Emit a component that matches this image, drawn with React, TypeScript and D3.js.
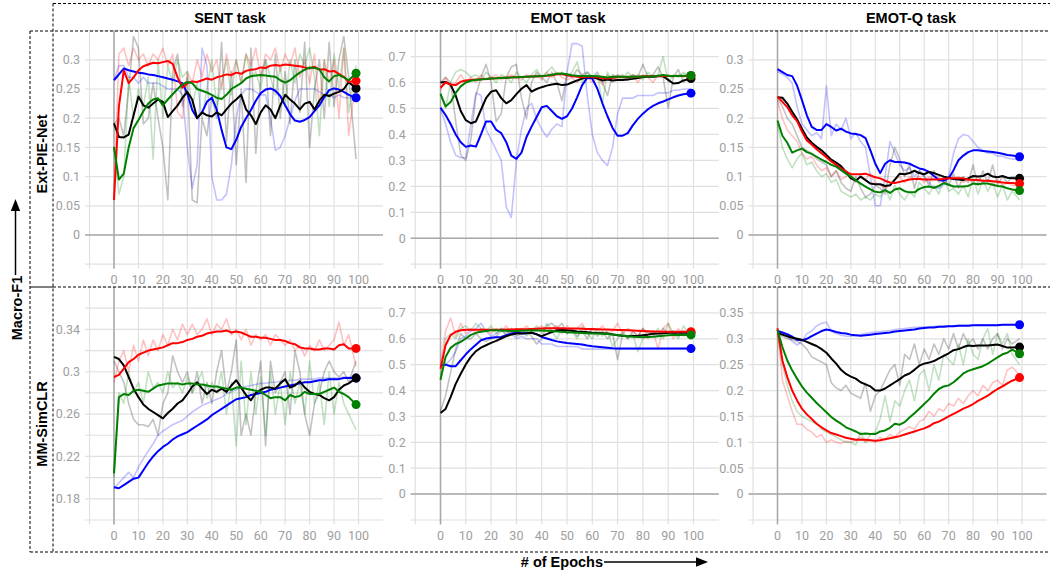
import * as d3 from "d3";

// x positions of every stored value (epochs)
const EPOCHS = [0, 2, 4, 6, 8, 10, 12, 14, 16, 18, 20, 22, 24, 26, 28, 30, 32, 34, 36, 38, 40, 42, 44, 46, 48, 50, 52, 54, 56, 58, 60, 62, 64, 66, 68, 70, 72, 74, 76, 78, 80, 82, 84, 86, 88, 90, 92, 94, 96, 99];

const TASKS = ["SENT task", "EMOT task", "EMOT-Q task"];
const MODELS = ["Ext-PIE-Net", "MM-SimCLR"];
const X_TICKS = [0, 10, 20, 30, 40, 50, 60, 70, 80, 90, 100];

const Y_TICKS_SENT_EXT = [0, 0.05, 0.1, 0.15, 0.2, 0.25, 0.3];
const Y_TICKS_EMOT = [0, 0.1, 0.2, 0.3, 0.4, 0.5, 0.6, 0.7];
const Y_TICKS_EMOTQ_EXT = [0, 0.05, 0.1, 0.15, 0.2, 0.25, 0.3];
const Y_TICKS_SENT_SIM = [0.18, 0.22, 0.26, 0.3, 0.34];
const Y_TICKS_EMOTQ_SIM = [0, 0.05, 0.1, 0.15, 0.2, 0.25, 0.3, 0.35];

// ---- SENT task / Ext-PIE-Net ----
const SENT_EXT_RED = [
  0.06, 0.22, 0.282, 0.26, 0.27, 0.282, 0.289, 0.292, 0.295, 0.294,
  0.296, 0.298, 0.293, 0.27, 0.252, 0.26, 0.263, 0.262, 0.265, 0.268,
  0.266, 0.27, 0.272, 0.275, 0.274, 0.278, 0.276, 0.281, 0.283, 0.284,
  0.287, 0.286, 0.29, 0.291, 0.29, 0.292, 0.291, 0.29, 0.289, 0.287,
  0.285, 0.288, 0.283, 0.284, 0.28, 0.281, 0.276, 0.271, 0.262, 0.264,
];
const SENT_EXT_RED_RAW = [
  0.06, 0.31, 0.32, 0.29, 0.32, 0.3, 0.31, 0.29, 0.31, 0.3,
  0.32, 0.29, 0.31, 0.21, 0.2, 0.28, 0.26, 0.3, 0.27, 0.31,
  0.28, 0.3, 0.25, 0.31, 0.27, 0.3, 0.26, 0.31, 0.29, 0.32,
  0.27, 0.31, 0.3, 0.32, 0.28, 0.31, 0.29, 0.32, 0.27, 0.3,
  0.26, 0.31, 0.22, 0.3, 0.26, 0.3, 0.2, 0.32, 0.17, 0.27,
];
const SENT_EXT_BLUE = [
  0.265, 0.275, 0.285, 0.282, 0.28, 0.278, 0.277, 0.275, 0.274, 0.272,
  0.27, 0.268, 0.266, 0.263, 0.26, 0.242, 0.214, 0.2, 0.21, 0.228,
  0.235, 0.215, 0.18, 0.15, 0.147, 0.163, 0.185, 0.2, 0.214, 0.23,
  0.243, 0.249, 0.251, 0.247, 0.238, 0.222, 0.207, 0.196, 0.194, 0.197,
  0.202, 0.212, 0.222, 0.236, 0.248, 0.251, 0.249, 0.245, 0.24, 0.235,
];
const SENT_EXT_BLUE_RAW = [
  0.265, 0.29, 0.29, 0.27, 0.27, 0.26, 0.27, 0.26, 0.26, 0.26,
  0.255, 0.25, 0.25, 0.25, 0.24, 0.15, 0.08, 0.12, 0.32, 0.29,
  0.1, 0.06, 0.06, 0.07, 0.12, 0.2, 0.24, 0.25, 0.25, 0.245,
  0.24, 0.24, 0.2, 0.145, 0.15, 0.17, 0.2, 0.23, 0.25, 0.25,
  0.25, 0.25, 0.245, 0.24, 0.24, 0.235, 0.24, 0.235, 0.235, 0.235,
];
const SENT_EXT_GREEN = [
  0.151, 0.095, 0.105, 0.15, 0.183, 0.197, 0.212, 0.225, 0.232, 0.234,
  0.222, 0.232, 0.241, 0.25, 0.258, 0.262, 0.26, 0.25, 0.247, 0.244,
  0.24, 0.235, 0.233, 0.24, 0.25, 0.255, 0.26, 0.268, 0.272, 0.273,
  0.274, 0.273, 0.272, 0.271, 0.265, 0.261, 0.265, 0.272, 0.278, 0.283,
  0.287, 0.286, 0.284, 0.27, 0.263, 0.272, 0.274, 0.27, 0.265, 0.277,
];
const SENT_EXT_GREEN_RAW = [
  0.15, 0.07, 0.1, 0.27, 0.2, 0.25, 0.22, 0.27, 0.13, 0.3,
  0.2, 0.29, 0.26, 0.3, 0.27, 0.28, 0.22, 0.26, 0.2, 0.25,
  0.3, 0.22, 0.26, 0.3, 0.24, 0.3, 0.26, 0.31, 0.27, 0.28,
  0.25, 0.3, 0.27, 0.24, 0.29, 0.22, 0.3, 0.26, 0.31, 0.29,
  0.32, 0.27, 0.17, 0.3, 0.22, 0.31, 0.25, 0.32, 0.21, 0.29,
];
const SENT_EXT_BLACK = [
  0.191, 0.168, 0.167, 0.172, 0.205, 0.237, 0.222, 0.218, 0.225, 0.232,
  0.228, 0.202, 0.212, 0.222, 0.235, 0.245, 0.232, 0.2, 0.21, 0.205,
  0.203, 0.21, 0.205, 0.215, 0.225, 0.232, 0.24, 0.215, 0.205, 0.19,
  0.21, 0.222, 0.215, 0.2, 0.222, 0.24, 0.232, 0.225, 0.215, 0.225,
  0.228, 0.215, 0.23, 0.24, 0.238, 0.242, 0.245, 0.25, 0.262, 0.251,
];
const SENT_EXT_BLACK_RAW = [
  0.19, 0.2, 0.17, 0.25, 0.34, 0.32, 0.19, 0.2, 0.26, 0.2,
  0.15, 0.06, 0.28, 0.31, 0.22, 0.27, 0.06, 0.055, 0.2, 0.17,
  0.24, 0.2, 0.33, 0.16, 0.28, 0.12, 0.25, 0.09, 0.32, 0.14,
  0.27, 0.3, 0.17, 0.31, 0.2, 0.28, 0.19, 0.3, 0.21, 0.33,
  0.15, 0.25, 0.3, 0.2, 0.33, 0.22, 0.3, 0.34, 0.27, 0.13,
];

// ---- EMOT task / Ext-PIE-Net ----
const EMOT_EXT_RED = [
  0.58, 0.6, 0.592, 0.59, 0.603, 0.608, 0.61, 0.612, 0.613, 0.614,
  0.615, 0.616, 0.618, 0.618, 0.62, 0.62, 0.621, 0.622, 0.623, 0.623,
  0.625, 0.626, 0.628, 0.632, 0.633, 0.628, 0.625, 0.622, 0.62, 0.622,
  0.622, 0.62, 0.617, 0.615, 0.618, 0.62, 0.621, 0.621, 0.622, 0.622,
  0.624, 0.624, 0.625, 0.625, 0.625, 0.625, 0.625, 0.625, 0.625, 0.626,
];
const EMOT_EXT_RED_RAW = [
  0.57, 0.62, 0.58, 0.6, 0.63, 0.6, 0.62, 0.6, 0.63, 0.61,
  0.62, 0.63, 0.61, 0.62, 0.63, 0.62, 0.61, 0.63, 0.62, 0.63,
  0.61, 0.64, 0.62, 0.64, 0.62, 0.61, 0.62, 0.6, 0.63, 0.62,
  0.6, 0.62, 0.59, 0.63, 0.61, 0.63, 0.62, 0.61, 0.63, 0.6,
  0.63, 0.62, 0.6, 0.63, 0.62, 0.63, 0.62, 0.63, 0.62, 0.63,
];
const EMOT_EXT_BLUE = [
  0.503, 0.475, 0.44, 0.4, 0.37, 0.352, 0.357, 0.353, 0.4, 0.45,
  0.45, 0.418, 0.405, 0.37, 0.318, 0.306, 0.33, 0.39, 0.43, 0.467,
  0.505, 0.51, 0.49, 0.47, 0.46, 0.47, 0.5, 0.543, 0.59, 0.618,
  0.615, 0.576, 0.52, 0.47, 0.425, 0.395, 0.395, 0.405, 0.435, 0.46,
  0.48, 0.497, 0.51, 0.52, 0.527, 0.535, 0.543, 0.55, 0.555, 0.559,
];
const EMOT_EXT_BLUE_RAW = [
  0.5, 0.44, 0.37, 0.32, 0.31, 0.31, 0.44, 0.56, 0.55, 0.42,
  0.38, 0.34, 0.3, 0.12, 0.08, 0.3, 0.42, 0.5, 0.52, 0.46,
  0.42, 0.39, 0.42, 0.44, 0.43, 0.64, 0.75, 0.75, 0.74, 0.55,
  0.4, 0.33, 0.3, 0.28, 0.35, 0.48, 0.54, 0.54, 0.54, 0.55,
  0.55, 0.55, 0.55, 0.56, 0.56, 0.56, 0.57, 0.57, 0.575, 0.575,
];
const EMOT_EXT_GREEN = [
  0.556, 0.508, 0.525, 0.56, 0.585, 0.6, 0.607, 0.61, 0.612, 0.614,
  0.615, 0.616, 0.617, 0.618, 0.619, 0.62, 0.621, 0.622, 0.623, 0.624,
  0.625, 0.627, 0.63, 0.634, 0.635, 0.632, 0.628, 0.626, 0.625, 0.625,
  0.625, 0.624, 0.622, 0.619, 0.622, 0.622, 0.622, 0.622, 0.622, 0.622,
  0.623, 0.623, 0.624, 0.626, 0.629, 0.626, 0.625, 0.625, 0.626, 0.627,
];
const EMOT_EXT_GREEN_RAW = [
  0.56, 0.5, 0.6, 0.64, 0.65, 0.64, 0.62, 0.63, 0.61, 0.64,
  0.62, 0.6, 0.63, 0.62, 0.6, 0.64, 0.62, 0.6, 0.63, 0.65,
  0.62, 0.64, 0.66, 0.63, 0.64, 0.62, 0.64, 0.68, 0.6, 0.64,
  0.62, 0.63, 0.52, 0.64, 0.6, 0.63, 0.61, 0.64, 0.62, 0.63,
  0.61, 0.64, 0.62, 0.63, 0.7, 0.6, 0.63, 0.62, 0.64, 0.62,
];
const EMOT_EXT_BLACK = [
  0.6, 0.602, 0.592, 0.55, 0.49, 0.455, 0.443, 0.45, 0.495, 0.54,
  0.565, 0.57, 0.54, 0.52, 0.532, 0.555, 0.576, 0.59, 0.565, 0.575,
  0.582, 0.588, 0.592, 0.595, 0.59, 0.592, 0.6, 0.608, 0.615, 0.62,
  0.62, 0.615, 0.608, 0.612, 0.608, 0.61, 0.61, 0.612, 0.614, 0.617,
  0.621, 0.622, 0.622, 0.624, 0.624, 0.61, 0.596, 0.598, 0.608, 0.615,
];
const EMOT_EXT_BLACK_RAW = [
  0.6, 0.62, 0.6, 0.45, 0.32, 0.3, 0.38, 0.55, 0.62, 0.67,
  0.6, 0.45, 0.48, 0.62, 0.66, 0.67, 0.54, 0.46, 0.6, 0.64,
  0.62, 0.6, 0.64, 0.6, 0.53, 0.63, 0.62, 0.65, 0.63, 0.64,
  0.62, 0.64, 0.6, 0.55, 0.63, 0.62, 0.63, 0.61, 0.63, 0.62,
  0.67, 0.62, 0.63, 0.66, 0.62, 0.5, 0.62, 0.65, 0.6, 0.63,
];

// ---- EMOT-Q task / Ext-PIE-Net ----
const EMOTQ_EXT_RED = [
  0.237, 0.228, 0.219, 0.205, 0.195, 0.177, 0.162, 0.155, 0.147, 0.14,
  0.133, 0.126, 0.12, 0.114, 0.109, 0.104, 0.104, 0.104, 0.105, 0.102,
  0.099, 0.097, 0.093, 0.09, 0.089, 0.091, 0.093, 0.095, 0.096, 0.096,
  0.095, 0.095, 0.095, 0.095, 0.096, 0.097, 0.097, 0.097, 0.097, 0.095,
  0.094, 0.094, 0.093, 0.093, 0.092, 0.091, 0.09, 0.089, 0.089, 0.088,
];
const EMOTQ_EXT_RED_RAW = [
  0.23, 0.2, 0.18, 0.17, 0.16, 0.14, 0.13, 0.135, 0.12, 0.11,
  0.115, 0.1, 0.11, 0.095, 0.1, 0.105, 0.09, 0.1, 0.095, 0.105,
  0.09, 0.085, 0.08, 0.085, 0.095, 0.1, 0.09, 0.1, 0.095, 0.1,
  0.09, 0.1, 0.095, 0.1, 0.09, 0.1, 0.095, 0.1, 0.09, 0.095,
  0.09, 0.1, 0.09, 0.095, 0.085, 0.095, 0.085, 0.09, 0.085, 0.085,
];
const EMOTQ_EXT_BLUE = [
  0.284, 0.279, 0.274, 0.272, 0.256, 0.231, 0.205, 0.185, 0.18, 0.18,
  0.19, 0.185, 0.179, 0.182, 0.177, 0.174, 0.173, 0.171, 0.166, 0.145,
  0.122, 0.106, 0.122, 0.128, 0.125, 0.125, 0.124, 0.122, 0.118, 0.114,
  0.112, 0.108, 0.101, 0.094, 0.093, 0.097, 0.111, 0.128, 0.136, 0.142,
  0.145, 0.145, 0.144, 0.143, 0.142, 0.141, 0.139, 0.137, 0.136, 0.134,
];
const EMOTQ_EXT_BLUE_RAW = [
  0.28, 0.275, 0.27, 0.26, 0.22, 0.19, 0.18, 0.17, 0.175, 0.165,
  0.255, 0.17, 0.19, 0.18, 0.2, 0.165, 0.175, 0.16, 0.15, 0.1,
  0.05, 0.05, 0.1, 0.16, 0.14, 0.12, 0.11, 0.115, 0.1, 0.11,
  0.1, 0.09, 0.08, 0.08, 0.085, 0.1, 0.14, 0.165, 0.172, 0.17,
  0.16, 0.15, 0.145, 0.14, 0.14, 0.135, 0.135, 0.132, 0.13, 0.13,
];
const EMOTQ_EXT_GREEN = [
  0.196, 0.17, 0.158, 0.141, 0.145, 0.148, 0.142, 0.139, 0.134, 0.129,
  0.125, 0.12, 0.117, 0.111, 0.105, 0.1, 0.094, 0.088, 0.083, 0.078,
  0.074, 0.073, 0.077, 0.072, 0.078, 0.08, 0.075, 0.073, 0.073, 0.079,
  0.082, 0.083, 0.081, 0.084, 0.089, 0.086, 0.083, 0.083, 0.083, 0.084,
  0.088, 0.087, 0.088, 0.088, 0.086, 0.084, 0.083, 0.08, 0.078, 0.076,
];
const EMOTQ_EXT_GREEN_RAW = [
  0.19, 0.15, 0.13, 0.115, 0.13, 0.14, 0.12, 0.125, 0.11, 0.1,
  0.105, 0.09, 0.095, 0.075, 0.07, 0.065, 0.07, 0.06, 0.065, 0.06,
  0.07, 0.065, 0.08, 0.06, 0.085, 0.07, 0.06, 0.075, 0.065, 0.09,
  0.08, 0.07, 0.085, 0.07, 0.1, 0.075, 0.08, 0.07, 0.085, 0.065,
  0.1, 0.07, 0.095, 0.075, 0.09, 0.065, 0.085, 0.06, 0.075, 0.06,
];
const EMOTQ_EXT_BLACK = [
  0.236, 0.235, 0.225, 0.211, 0.198, 0.182, 0.167, 0.158, 0.151, 0.145,
  0.137, 0.129, 0.124, 0.118, 0.108, 0.097, 0.093, 0.1, 0.094, 0.088,
  0.087, 0.087, 0.084, 0.085, 0.095, 0.105, 0.104, 0.106, 0.11, 0.106,
  0.104, 0.108, 0.106, 0.103, 0.1, 0.098, 0.096, 0.095, 0.094, 0.097,
  0.101, 0.1, 0.101, 0.105, 0.1, 0.099, 0.101, 0.098, 0.097, 0.097,
];
const EMOTQ_EXT_BLACK_RAW = [
  0.235, 0.22, 0.2, 0.19, 0.17, 0.15, 0.145, 0.14, 0.13, 0.125,
  0.12, 0.1, 0.11, 0.09, 0.08, 0.075, 0.1, 0.08, 0.065, 0.07,
  0.085, 0.08, 0.07, 0.12, 0.15, 0.13, 0.1, 0.12, 0.08, 0.11,
  0.1, 0.085, 0.11, 0.09, 0.1, 0.085, 0.105, 0.08, 0.1, 0.09,
  0.12, 0.085, 0.11, 0.09, 0.12, 0.085, 0.1, 0.09, 0.1, 0.095,
];

// ---- SENT task / MM-SimCLR ----
const SENT_SIM_RED = [
  0.295, 0.297, 0.303, 0.309, 0.312, 0.316, 0.318, 0.32, 0.321, 0.322,
  0.323, 0.325, 0.327, 0.327, 0.328, 0.33, 0.331, 0.333, 0.334, 0.336,
  0.337, 0.338, 0.338, 0.339, 0.337, 0.338, 0.337, 0.335, 0.333, 0.333,
  0.332, 0.332, 0.331, 0.33, 0.33, 0.329, 0.327, 0.326, 0.323, 0.322,
  0.322, 0.321, 0.321, 0.322, 0.322, 0.321, 0.325, 0.326, 0.322, 0.322,
];
const SENT_SIM_RED_RAW = [
  0.29, 0.31, 0.32, 0.3, 0.325, 0.31, 0.33, 0.315, 0.33, 0.32,
  0.335, 0.325, 0.34, 0.33, 0.345, 0.335, 0.345, 0.335, 0.34, 0.35,
  0.335, 0.345, 0.34, 0.35, 0.335, 0.34, 0.33, 0.34, 0.325, 0.335,
  0.33, 0.335, 0.325, 0.335, 0.33, 0.325, 0.33, 0.32, 0.325, 0.315,
  0.325, 0.32, 0.33, 0.32, 0.325, 0.33, 0.347, 0.325, 0.335, 0.305,
];
const SENT_SIM_BLUE = [
  0.191, 0.19, 0.193, 0.196, 0.199, 0.2, 0.207, 0.214, 0.22, 0.225,
  0.229, 0.232, 0.236, 0.239, 0.241, 0.243, 0.246, 0.249, 0.252, 0.255,
  0.259, 0.262, 0.265, 0.268, 0.271, 0.274, 0.275, 0.276, 0.278, 0.279,
  0.28, 0.281, 0.283, 0.284, 0.285, 0.286, 0.287, 0.288, 0.289, 0.29,
  0.29, 0.291, 0.292, 0.292, 0.293, 0.293, 0.293, 0.294, 0.294, 0.294,
];
const SENT_SIM_BLUE_RAW = [
  0.19, 0.195, 0.2, 0.205, 0.2, 0.21, 0.218, 0.225, 0.232, 0.24,
  0.244, 0.247, 0.25, 0.252, 0.254, 0.258, 0.262, 0.265, 0.268, 0.27,
  0.272, 0.274, 0.276, 0.279, 0.281, 0.283, 0.285, 0.286, 0.287, 0.288,
  0.289, 0.289, 0.29, 0.29, 0.291, 0.291, 0.292, 0.292, 0.293, 0.293,
  0.293, 0.293, 0.294, 0.294, 0.294, 0.294, 0.294, 0.295, 0.295, 0.295,
];
const SENT_SIM_GREEN = [
  0.204, 0.276, 0.279, 0.278, 0.282, 0.283, 0.282, 0.281, 0.284, 0.287,
  0.288, 0.289, 0.289, 0.289, 0.288, 0.289, 0.289, 0.288, 0.288, 0.287,
  0.286, 0.286, 0.285, 0.284, 0.283, 0.285, 0.285, 0.284, 0.283, 0.282,
  0.281, 0.278, 0.275, 0.276, 0.276, 0.273, 0.278, 0.276, 0.277, 0.281,
  0.279, 0.279, 0.279, 0.281, 0.283, 0.285, 0.281, 0.279, 0.276, 0.269,
];
const SENT_SIM_GREEN_RAW = [
  0.2, 0.28, 0.27, 0.3, 0.28, 0.29, 0.27, 0.3, 0.285, 0.29,
  0.28, 0.3, 0.285, 0.29, 0.28, 0.295, 0.28, 0.29, 0.3, 0.275,
  0.29, 0.28, 0.3, 0.26, 0.29, 0.23, 0.31, 0.25, 0.3, 0.26,
  0.295, 0.24, 0.3, 0.26, 0.29, 0.25, 0.3, 0.27, 0.29, 0.26,
  0.31, 0.27, 0.29, 0.25, 0.3, 0.26, 0.29, 0.27, 0.26, 0.245,
];
const SENT_SIM_BLACK = [
  0.314, 0.312, 0.306, 0.295, 0.284, 0.276, 0.269, 0.265, 0.262, 0.259,
  0.256, 0.261, 0.265, 0.27, 0.273, 0.279, 0.286, 0.29, 0.284, 0.279,
  0.283, 0.281, 0.284, 0.281, 0.287, 0.292, 0.285, 0.278, 0.273, 0.28,
  0.283, 0.285, 0.285, 0.284, 0.289, 0.293, 0.285, 0.287, 0.291, 0.285,
  0.281, 0.279, 0.278, 0.275, 0.273, 0.276, 0.283, 0.287, 0.289, 0.294,
];
const SENT_SIM_BLACK_RAW = [
  0.31, 0.3, 0.29, 0.27, 0.255, 0.25, 0.25, 0.248, 0.255, 0.24,
  0.27, 0.28, 0.315, 0.3, 0.29, 0.3, 0.28, 0.3, 0.27, 0.29,
  0.27, 0.3, 0.32, 0.28, 0.3, 0.33, 0.24, 0.26, 0.24, 0.28,
  0.31, 0.23, 0.31, 0.28, 0.29, 0.3, 0.26, 0.32, 0.3, 0.26,
  0.24, 0.27, 0.28, 0.3, 0.31, 0.3, 0.295, 0.3, 0.29, 0.31,
];

// ---- EMOT task / MM-SimCLR ----
const EMOT_SIM_RED = [
  0.484, 0.575, 0.614, 0.627, 0.633, 0.635, 0.635, 0.635, 0.635, 0.635,
  0.635, 0.635, 0.635, 0.636, 0.636, 0.637, 0.637, 0.637, 0.638, 0.639,
  0.64, 0.641, 0.641, 0.641, 0.641, 0.64, 0.64, 0.64, 0.639, 0.638,
  0.638, 0.637, 0.636, 0.636, 0.635, 0.634, 0.634, 0.633, 0.632, 0.631,
  0.63, 0.629, 0.628, 0.628, 0.627, 0.627, 0.627, 0.627, 0.627, 0.627,
];
const EMOT_SIM_RED_RAW = [
  0.5, 0.63, 0.68, 0.61, 0.66, 0.62, 0.64, 0.62, 0.64, 0.63,
  0.62, 0.64, 0.63, 0.65, 0.62, 0.64, 0.63, 0.65, 0.63, 0.64,
  0.65, 0.63, 0.64, 0.65, 0.62, 0.65, 0.63, 0.64, 0.66, 0.62,
  0.64, 0.63, 0.65, 0.62, 0.63, 0.66, 0.62, 0.64, 0.63, 0.61,
  0.64, 0.6, 0.63, 0.56, 0.64, 0.66, 0.6, 0.64, 0.61, 0.63,
];
const EMOT_SIM_BLUE = [
  0.497, 0.5, 0.494, 0.494, 0.517, 0.54, 0.56, 0.577, 0.594, 0.601,
  0.604, 0.606, 0.607, 0.614, 0.62, 0.623, 0.621, 0.621, 0.623, 0.618,
  0.607, 0.601, 0.595, 0.59, 0.587, 0.584, 0.582, 0.58, 0.578, 0.574,
  0.571, 0.569, 0.567, 0.565, 0.563, 0.562, 0.562, 0.562, 0.562, 0.562,
  0.562, 0.562, 0.562, 0.562, 0.562, 0.562, 0.562, 0.562, 0.562, 0.562,
];
const EMOT_SIM_BLUE_RAW = [
  0.5, 0.5, 0.52, 0.55, 0.6, 0.61, 0.63, 0.64, 0.66, 0.63,
  0.61, 0.62, 0.64, 0.63, 0.62, 0.6, 0.61, 0.6, 0.6, 0.6,
  0.58, 0.58, 0.58, 0.57, 0.57, 0.57, 0.57, 0.57, 0.56, 0.56,
  0.56, 0.56, 0.56, 0.56, 0.56, 0.56, 0.56, 0.56, 0.56, 0.56,
  0.56, 0.56, 0.56, 0.56, 0.56, 0.56, 0.56, 0.56, 0.56, 0.56,
];
const EMOT_SIM_GREEN = [
  0.442, 0.53, 0.565, 0.58, 0.588, 0.601, 0.615, 0.623, 0.627, 0.63,
  0.633, 0.633, 0.632, 0.631, 0.63, 0.63, 0.631, 0.632, 0.632, 0.632,
  0.632, 0.631, 0.63, 0.628, 0.627, 0.625, 0.624, 0.623, 0.622, 0.621,
  0.62, 0.62, 0.619, 0.618, 0.617, 0.615, 0.612, 0.61, 0.608, 0.607,
  0.606, 0.607, 0.608, 0.61, 0.612, 0.614, 0.615, 0.615, 0.615, 0.615,
];
const EMOT_SIM_GREEN_RAW = [
  0.44, 0.6, 0.62, 0.6, 0.64, 0.65, 0.63, 0.66, 0.64, 0.63,
  0.65, 0.62, 0.64, 0.61, 0.63, 0.62, 0.64, 0.61, 0.63, 0.65,
  0.62, 0.66, 0.63, 0.6, 0.64, 0.62, 0.63, 0.6, 0.65, 0.62,
  0.6, 0.64, 0.61, 0.63, 0.57, 0.6, 0.63, 0.6, 0.62, 0.55,
  0.6, 0.63, 0.61, 0.64, 0.6, 0.66, 0.62, 0.6, 0.65, 0.61,
];
const EMOT_SIM_BLACK = [
  0.313, 0.329, 0.375, 0.426, 0.465, 0.501, 0.53, 0.552, 0.566, 0.575,
  0.584, 0.592, 0.601, 0.61, 0.616, 0.62, 0.62, 0.621, 0.623, 0.617,
  0.61, 0.618, 0.626, 0.633, 0.634, 0.633, 0.631, 0.628, 0.627, 0.625,
  0.623, 0.622, 0.621, 0.62, 0.617, 0.614, 0.612, 0.61, 0.611, 0.612,
  0.614, 0.616, 0.619, 0.62, 0.621, 0.623, 0.623, 0.623, 0.623, 0.623,
];
const EMOT_SIM_BLACK_RAW = [
  0.32, 0.38, 0.47, 0.56, 0.62, 0.6, 0.6, 0.62, 0.6, 0.59,
  0.6, 0.61, 0.63, 0.62, 0.64, 0.61, 0.62, 0.63, 0.61, 0.58,
  0.6, 0.65, 0.66, 0.64, 0.66, 0.62, 0.64, 0.61, 0.63, 0.6,
  0.64, 0.61, 0.63, 0.6, 0.62, 0.52, 0.62, 0.6, 0.63, 0.61,
  0.64, 0.62, 0.63, 0.61, 0.64, 0.62, 0.63, 0.61, 0.63, 0.62,
];

// ---- EMOT-Q task / MM-SimCLR ----
const EMOTQ_SIM_RED = [
  0.32, 0.258, 0.226, 0.2, 0.181, 0.165, 0.154, 0.145, 0.136, 0.129,
  0.123, 0.118, 0.115, 0.112, 0.109, 0.107, 0.105, 0.105, 0.105, 0.104,
  0.103, 0.104, 0.106, 0.108, 0.11, 0.112, 0.115, 0.118, 0.121, 0.124,
  0.127, 0.131, 0.137, 0.14, 0.145, 0.15, 0.155, 0.16, 0.165, 0.169,
  0.174, 0.18, 0.185, 0.19, 0.197, 0.203, 0.208, 0.214, 0.219, 0.225,
];
const EMOTQ_SIM_RED_RAW = [
  0.32, 0.22, 0.19, 0.16, 0.135, 0.135, 0.125, 0.12, 0.11, 0.115,
  0.1, 0.105, 0.1, 0.098, 0.102, 0.1, 0.105, 0.11, 0.1, 0.105,
  0.1, 0.11, 0.105, 0.115, 0.11, 0.12, 0.125, 0.13, 0.125, 0.14,
  0.145, 0.16, 0.15, 0.165, 0.16, 0.175, 0.17, 0.185, 0.175, 0.19,
  0.2, 0.19, 0.21, 0.2, 0.215, 0.22, 0.21, 0.24, 0.245, 0.23,
];
const EMOTQ_SIM_BLUE = [
  0.315, 0.312, 0.309, 0.304, 0.298, 0.297, 0.3, 0.305, 0.31, 0.315,
  0.318, 0.316, 0.313, 0.311, 0.31, 0.308, 0.307, 0.306, 0.307, 0.308,
  0.309, 0.31, 0.311, 0.312, 0.314, 0.315, 0.316, 0.317, 0.318, 0.32,
  0.321, 0.322, 0.322, 0.323, 0.323, 0.324, 0.324, 0.325, 0.325, 0.325,
  0.326, 0.326, 0.326, 0.326, 0.326, 0.326, 0.327, 0.327, 0.327, 0.327,
];
const EMOTQ_SIM_BLUE_RAW = [
  0.315, 0.31, 0.305, 0.295, 0.288, 0.295, 0.31, 0.315, 0.325, 0.33,
  0.332, 0.315, 0.31, 0.307, 0.305, 0.305, 0.306, 0.308, 0.31, 0.312,
  0.313, 0.314, 0.315, 0.316, 0.318, 0.319, 0.32, 0.321, 0.322, 0.322,
  0.323, 0.323, 0.324, 0.324, 0.325, 0.325, 0.325, 0.326, 0.326, 0.326,
  0.326, 0.327, 0.327, 0.327, 0.327, 0.327, 0.327, 0.327, 0.327, 0.327,
];
const EMOTQ_SIM_GREEN = [
  0.317, 0.284, 0.258, 0.239, 0.223, 0.208, 0.196, 0.186, 0.176, 0.167,
  0.158, 0.149, 0.142, 0.136, 0.129, 0.125, 0.121, 0.116, 0.117, 0.116,
  0.116, 0.121, 0.123, 0.128, 0.136, 0.134, 0.139, 0.148, 0.156, 0.165,
  0.174, 0.183, 0.194, 0.203, 0.208, 0.21, 0.216, 0.224, 0.233, 0.238,
  0.241, 0.244, 0.247, 0.252, 0.258, 0.264, 0.27, 0.273, 0.279, 0.271,
];
const EMOTQ_SIM_GREEN_RAW = [
  0.31, 0.25, 0.21, 0.18, 0.16, 0.15, 0.145, 0.14, 0.135, 0.125,
  0.12, 0.115, 0.11, 0.105, 0.1, 0.1, 0.095, 0.12, 0.1, 0.115,
  0.12, 0.145, 0.19, 0.14, 0.18, 0.17, 0.2, 0.22, 0.18, 0.23,
  0.24, 0.2, 0.25, 0.22, 0.27, 0.26, 0.25, 0.29, 0.25, 0.3,
  0.27, 0.26, 0.3, 0.32, 0.27, 0.31, 0.29, 0.31, 0.27, 0.25,
];
const EMOTQ_SIM_BLACK = [
  0.311, 0.308, 0.305, 0.302, 0.3, 0.298, 0.294, 0.29, 0.286, 0.28,
  0.273, 0.262, 0.252, 0.24, 0.232, 0.227, 0.223, 0.216, 0.212, 0.208,
  0.2, 0.2, 0.204, 0.21, 0.216, 0.222, 0.229, 0.233, 0.24, 0.248,
  0.252, 0.254, 0.257, 0.262, 0.267, 0.272, 0.278, 0.28, 0.284, 0.287,
  0.286, 0.287, 0.287, 0.287, 0.288, 0.289, 0.286, 0.283, 0.283, 0.284,
];
const EMOTQ_SIM_BLACK_RAW = [
  0.31, 0.305, 0.3, 0.298, 0.295, 0.29, 0.28, 0.265, 0.26, 0.255,
  0.25, 0.215, 0.205, 0.2, 0.21, 0.195, 0.19, 0.185, 0.215, 0.16,
  0.19, 0.2, 0.22, 0.24, 0.25, 0.21, 0.27, 0.26, 0.29, 0.25,
  0.28, 0.26, 0.29, 0.27, 0.3, 0.28, 0.31, 0.28, 0.31, 0.29,
  0.3, 0.28, 0.3, 0.28, 0.3, 0.31, 0.28, 0.3, 0.29, 0.3,
];

const BLUE = "#0000ff";
const BLACK = "#000000";
const RED = "#ff0000";
const GREEN = "#008000";

interface Run { color: string; smooth: number[]; raw: number[] }
interface PanelDef { row: number; col: number; domain: [number, number]; step: number; ticks: number[]; runs: Run[] }

// drawing order: blue, black, red, green (green on top)
const PANELS: PanelDef[] = [
  { row: 0, col: 0, domain: [-0.05, 0.35], step: 0.05, ticks: Y_TICKS_SENT_EXT, runs: [
    { color: BLUE, smooth: SENT_EXT_BLUE, raw: SENT_EXT_BLUE_RAW },
    { color: BLACK, smooth: SENT_EXT_BLACK, raw: SENT_EXT_BLACK_RAW },
    { color: RED, smooth: SENT_EXT_RED, raw: SENT_EXT_RED_RAW },
    { color: GREEN, smooth: SENT_EXT_GREEN, raw: SENT_EXT_GREEN_RAW },
  ] },
  { row: 0, col: 1, domain: [-0.1, 0.8], step: 0.1, ticks: Y_TICKS_EMOT, runs: [
    { color: BLUE, smooth: EMOT_EXT_BLUE, raw: EMOT_EXT_BLUE_RAW },
    { color: BLACK, smooth: EMOT_EXT_BLACK, raw: EMOT_EXT_BLACK_RAW },
    { color: RED, smooth: EMOT_EXT_RED, raw: EMOT_EXT_RED_RAW },
    { color: GREEN, smooth: EMOT_EXT_GREEN, raw: EMOT_EXT_GREEN_RAW },
  ] },
  { row: 0, col: 2, domain: [-0.05, 0.35], step: 0.05, ticks: Y_TICKS_EMOTQ_EXT, runs: [
    { color: BLUE, smooth: EMOTQ_EXT_BLUE, raw: EMOTQ_EXT_BLUE_RAW },
    { color: BLACK, smooth: EMOTQ_EXT_BLACK, raw: EMOTQ_EXT_BLACK_RAW },
    { color: RED, smooth: EMOTQ_EXT_RED, raw: EMOTQ_EXT_RED_RAW },
    { color: GREEN, smooth: EMOTQ_EXT_GREEN, raw: EMOTQ_EXT_GREEN_RAW },
  ] },
  { row: 1, col: 0, domain: [0.16, 0.38], step: 0.02, ticks: Y_TICKS_SENT_SIM, runs: [
    { color: BLUE, smooth: SENT_SIM_BLUE, raw: SENT_SIM_BLUE_RAW },
    { color: BLACK, smooth: SENT_SIM_BLACK, raw: SENT_SIM_BLACK_RAW },
    { color: RED, smooth: SENT_SIM_RED, raw: SENT_SIM_RED_RAW },
    { color: GREEN, smooth: SENT_SIM_GREEN, raw: SENT_SIM_GREEN_RAW },
  ] },
  { row: 1, col: 1, domain: [-0.1, 0.8], step: 0.1, ticks: Y_TICKS_EMOT, runs: [
    { color: BLUE, smooth: EMOT_SIM_BLUE, raw: EMOT_SIM_BLUE_RAW },
    { color: BLACK, smooth: EMOT_SIM_BLACK, raw: EMOT_SIM_BLACK_RAW },
    { color: RED, smooth: EMOT_SIM_RED, raw: EMOT_SIM_RED_RAW },
    { color: GREEN, smooth: EMOT_SIM_GREEN, raw: EMOT_SIM_GREEN_RAW },
  ] },
  { row: 1, col: 2, domain: [-0.05, 0.4], step: 0.05, ticks: Y_TICKS_EMOTQ_SIM, runs: [
    { color: BLUE, smooth: EMOTQ_SIM_BLUE, raw: EMOTQ_SIM_BLUE_RAW },
    { color: BLACK, smooth: EMOTQ_SIM_BLACK, raw: EMOTQ_SIM_BLACK_RAW },
    { color: RED, smooth: EMOTQ_SIM_RED, raw: EMOTQ_SIM_RED_RAW },
    { color: GREEN, smooth: EMOTQ_SIM_GREEN, raw: EMOTQ_SIM_GREEN_RAW },
  ] },
];

// layout
const W = 1050;
const H = 574;
const COL_X0 = [114, 440.5, 777.5];
const COL_X100 = [358.5, 693.5, 1022];
const ROW_TOP = [30.6, 287];
const ROW_BOTTOM = [264.2, 520];
const COL_CENTER = [230, 568, 911];
const ROW_CENTER = [154, 424];

const TICK_FONT = "Roboto, 'Liberation Sans', sans-serif";
const BOLD_FONT = "'Liberation Sans', Arial, sans-serif";
const fmt = (v: number) => String(+v.toFixed(2));

function Panel({ p }: { p: PanelDef }) {
  const x = d3.scaleLinear().domain([0, 100]).range([COL_X0[p.col], COL_X100[p.col]]);
  const y = d3.scaleLinear().domain(p.domain).range([ROW_BOTTOM[p.row], ROW_TOP[p.row]]);
  const left = x(-10);
  const right = x(110);
  const top = y(p.domain[1]);
  const bottom = y(p.domain[0]);
  const nH = Math.round((p.domain[1] - p.domain[0]) / p.step);
  const hGrid = d3.range(nH + 1).map((i) => p.domain[0] + i * p.step);
  const vGrid = d3.range(-10, 101, 10);
  const line = d3.line<number>().x((_, i) => x(EPOCHS[i])).y((d) => y(d));
  const last = EPOCHS.length - 1;

  return (
    <g>
      {hGrid.map((v, i) => (
        <line key={"h" + i} x1={left - 4.5} x2={right} y1={y(v)} y2={y(v)} stroke="#e0e0e0" strokeWidth={1.2} />
      ))}
      {vGrid.map((v) => (
        <line key={"v" + v} x1={x(v)} x2={x(v)} y1={top} y2={bottom + 4.5} stroke="#e0e0e0" strokeWidth={1.2} />
      ))}
      {p.domain[0] < 0 && (
        <line x1={left - 4.5} x2={right} y1={y(0)} y2={y(0)} stroke="#a8a8a8" strokeWidth={1.5} />
      )}
      <line x1={x(0)} x2={x(0)} y1={top} y2={bottom + 4.5} stroke="#a8a8a8" strokeWidth={1.5} />

      {p.runs.map((r, i) => (
        <path key={"raw" + i} d={line(r.raw) ?? ""} fill="none" stroke={r.color} strokeOpacity={0.24}
          strokeWidth={1.6} strokeLinejoin="round" />
      ))}
      {p.runs.map((r, i) => (
        <path key={"sm" + i} d={line(r.smooth) ?? ""} fill="none" stroke={r.color}
          strokeWidth={2} strokeLinejoin="round" />
      ))}
      {p.runs.map((r, i) => (
        <circle key={"dot" + i} cx={x(EPOCHS[last])} cy={y(r.smooth[last])} r={4.5} fill={r.color} />
      ))}

      {p.ticks.map((v) => (
        <text key={"yt" + v} x={left - 9.5} y={y(v)} dy="0.35em" textAnchor="end"
          fontFamily={TICK_FONT} fontSize={12.5} fill="#9e9e9e">{fmt(v)}</text>
      ))}
      {X_TICKS.map((v) => (
        <text key={"xt" + v} x={x(v)} y={bottom + 20} textAnchor="middle"
          fontFamily={TICK_FONT} fontSize={12.5} fill="#9e9e9e">{v}</text>
      ))}
    </g>
  );
}

export default function App() {
  const dash = "3,2";
  return (
    <svg width={W} height={H} viewBox={`0 0 ${W} ${H}`}
      style={{ position: "absolute", left: 0, top: 0, background: "#fff" }}>
      <rect width={W} height={H} fill="#fff" />
      {PANELS.map((p, i) => <Panel key={i} p={p} />)}

      {/* dashed frame */}
      <g stroke="#000" strokeWidth={1} fill="none">
        <line x1={53} x2={W} y1={3.5} y2={3.5} strokeDasharray={dash} />
        <line x1={30} x2={W} y1={31} y2={31} strokeDasharray={dash} />
        <line x1={53} x2={W} y1={287} y2={287} strokeDasharray={dash} />
        <line x1={30} x2={53} y1={287} y2={287} />
        <line x1={30} x2={W} y1={552} y2={552} strokeDasharray={dash} />
        <line x1={30} x2={30} y1={31} y2={552} strokeDasharray={dash} />
        <line x1={53} x2={53} y1={3.5} y2={552} strokeDasharray={dash} />
      </g>

      {TASKS.map((t, i) => (
        <text key={t} x={COL_CENTER[i]} y={23} textAnchor="middle" fontFamily={BOLD_FONT}
          fontWeight="bold" fontSize={14.5} fill="#000">{t}</text>
      ))}
      {MODELS.map((m, i) => (
        <text key={m} transform={`translate(46.5,${ROW_CENTER[i]}) rotate(-90)`} textAnchor="middle"
          fontFamily={BOLD_FONT} fontWeight="bold" fontSize={14.5} fill="#000">{m}</text>
      ))}

      {/* y axis title with arrow */}
      <text transform="translate(21.5,308) rotate(-90)" textAnchor="middle" fontFamily={BOLD_FONT}
        fontWeight="bold" fontSize={14.5} fill="#000">Macro-F1</text>
      <line x1={15.5} x2={15.5} y1={275} y2={208} stroke="#000" strokeWidth={1.5} />
      <polygon points="15.5,199 10.8,211 20.2,211" fill="#000" />

      {/* x axis title with arrow */}
      <text x={603} y={567} textAnchor="end" fontFamily={BOLD_FONT} fontWeight="bold"
        fontSize={14.5} fill="#000"># of Epochs</text>
      <line x1={604} x2={699} y1={562} y2={562} stroke="#000" strokeWidth={1.5} />
      <polygon points="708,562 696,557.3 696,566.7" fill="#000" />
    </svg>
  );
}
